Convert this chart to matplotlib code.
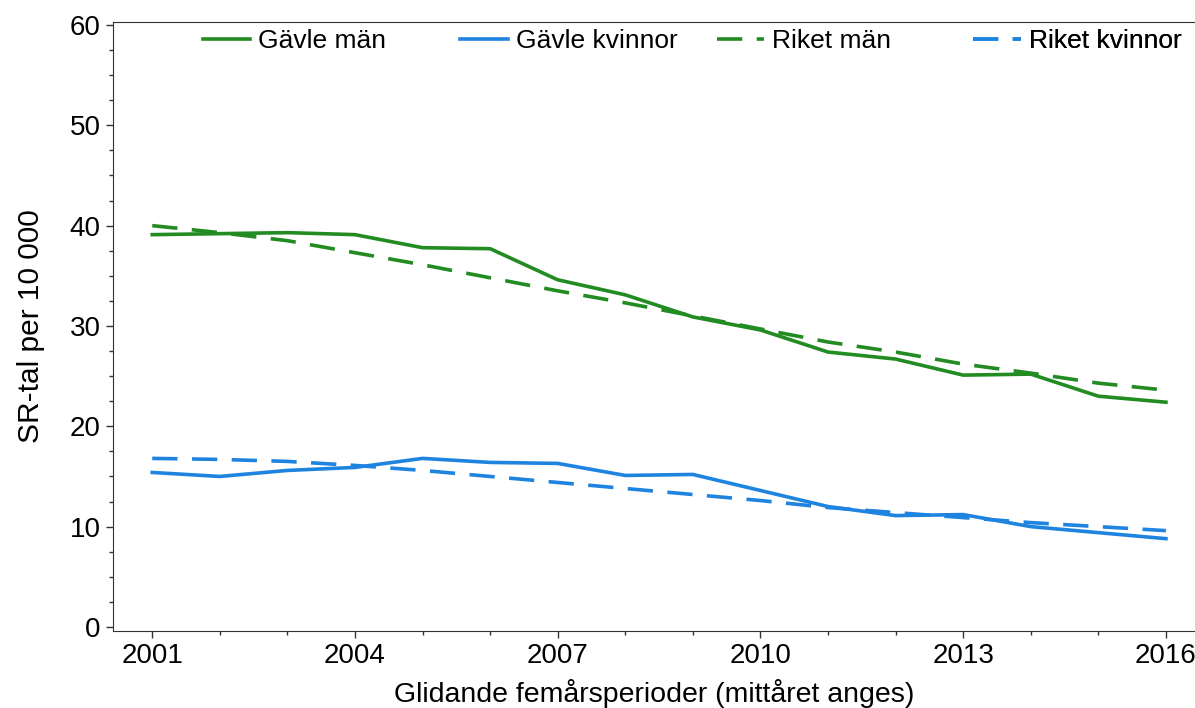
import numpy as np
import matplotlib.pyplot as plt
from matplotlib.ticker import MultipleLocator

plt.rcParams['font.family'] = ['Liberation Sans', 'DejaVu Sans']

years = np.arange(2001, 2017)
gavle_man = [39.1, 39.2, 39.3, 39.1, 37.8, 37.7, 34.6, 33.1, 30.9, 29.6, 27.4, 26.7, 25.1, 25.2, 23.0, 22.4]
riket_man = [40.0, 39.3, 38.5, 37.3, 36.1, 34.8, 33.5, 32.3, 31.0, 29.7, 28.4, 27.4, 26.2, 25.3, 24.3, 23.6]
gavle_kvinnor = [15.4, 15.0, 15.6, 15.9, 16.8, 16.4, 16.3, 15.1, 15.2, 13.6, 12.0, 11.1, 11.2, 10.0, 9.4, 8.8]
riket_kvinnor = [16.8, 16.7, 16.5, 16.1, 15.6, 15.0, 14.4, 13.8, 13.2, 12.6, 11.9, 11.4, 10.9, 10.4, 10.0, 9.6]

green = '#228B22'
blue = '#1F84E0'

fig = plt.figure(figsize=(11.95, 7.08), dpi=100)
ax = fig.add_axes([0.0946, 0.1088, 0.9054, 0.8602])

lw = 2.6
h1, = ax.plot(years, gavle_man, color=green, lw=lw, label='Gävle män')
h2, = ax.plot(years, gavle_kvinnor, color=blue, lw=lw, label='Gävle kvinnor')
h3, = ax.plot(years, riket_man, color=green, lw=lw, dashes=(7, 4), label='Riket män')
h4, = ax.plot(years, riket_kvinnor, color=blue, lw=lw, dashes=(7, 4), label='Riket kvinnor')

ax.set_xlim(2000.42, 2016.43)
ax.set_ylim(-0.4, 60.3)
ax.xaxis.set_major_locator(MultipleLocator(3))
ax.xaxis.set_minor_locator(MultipleLocator(1))
ax.yaxis.set_major_locator(MultipleLocator(10))
ax.yaxis.set_minor_locator(MultipleLocator(2.5))
ax.tick_params(which='major', direction='out', length=5, width=1, pad=4,
               labelsize=20, colors='#333333', labelcolor='black')
ax.tick_params(which='minor', direction='out', length=3, width=1, colors='#333333')

ax.spines['right'].set_visible(False)
for s in ['left', 'top', 'bottom']:
    ax.spines[s].set_color('#333333')

ax.set_xlabel('Glidande femårsperioder (mittåret anges)', fontsize=20.5, labelpad=7)
ax.set_ylabel('SR-tal per 10 000', fontsize=21.5, labelpad=18)

# legend: one entry per fixed slot, evenly spaced like the original
slots = [0.083, 0.321, 0.558, 0.795]
for h, x in zip([h1, h2, h3, h4], slots):
    leg = ax.legend([h], [h.get_label()], loc='center left', bbox_to_anchor=(x, 0.969),
                    frameon=False, fontsize=19, handlelength=1.8, handletextpad=0.3,
                    borderpad=0, borderaxespad=0)
    ax.add_artist(leg)

fig.savefig('out.png', dpi=100)
